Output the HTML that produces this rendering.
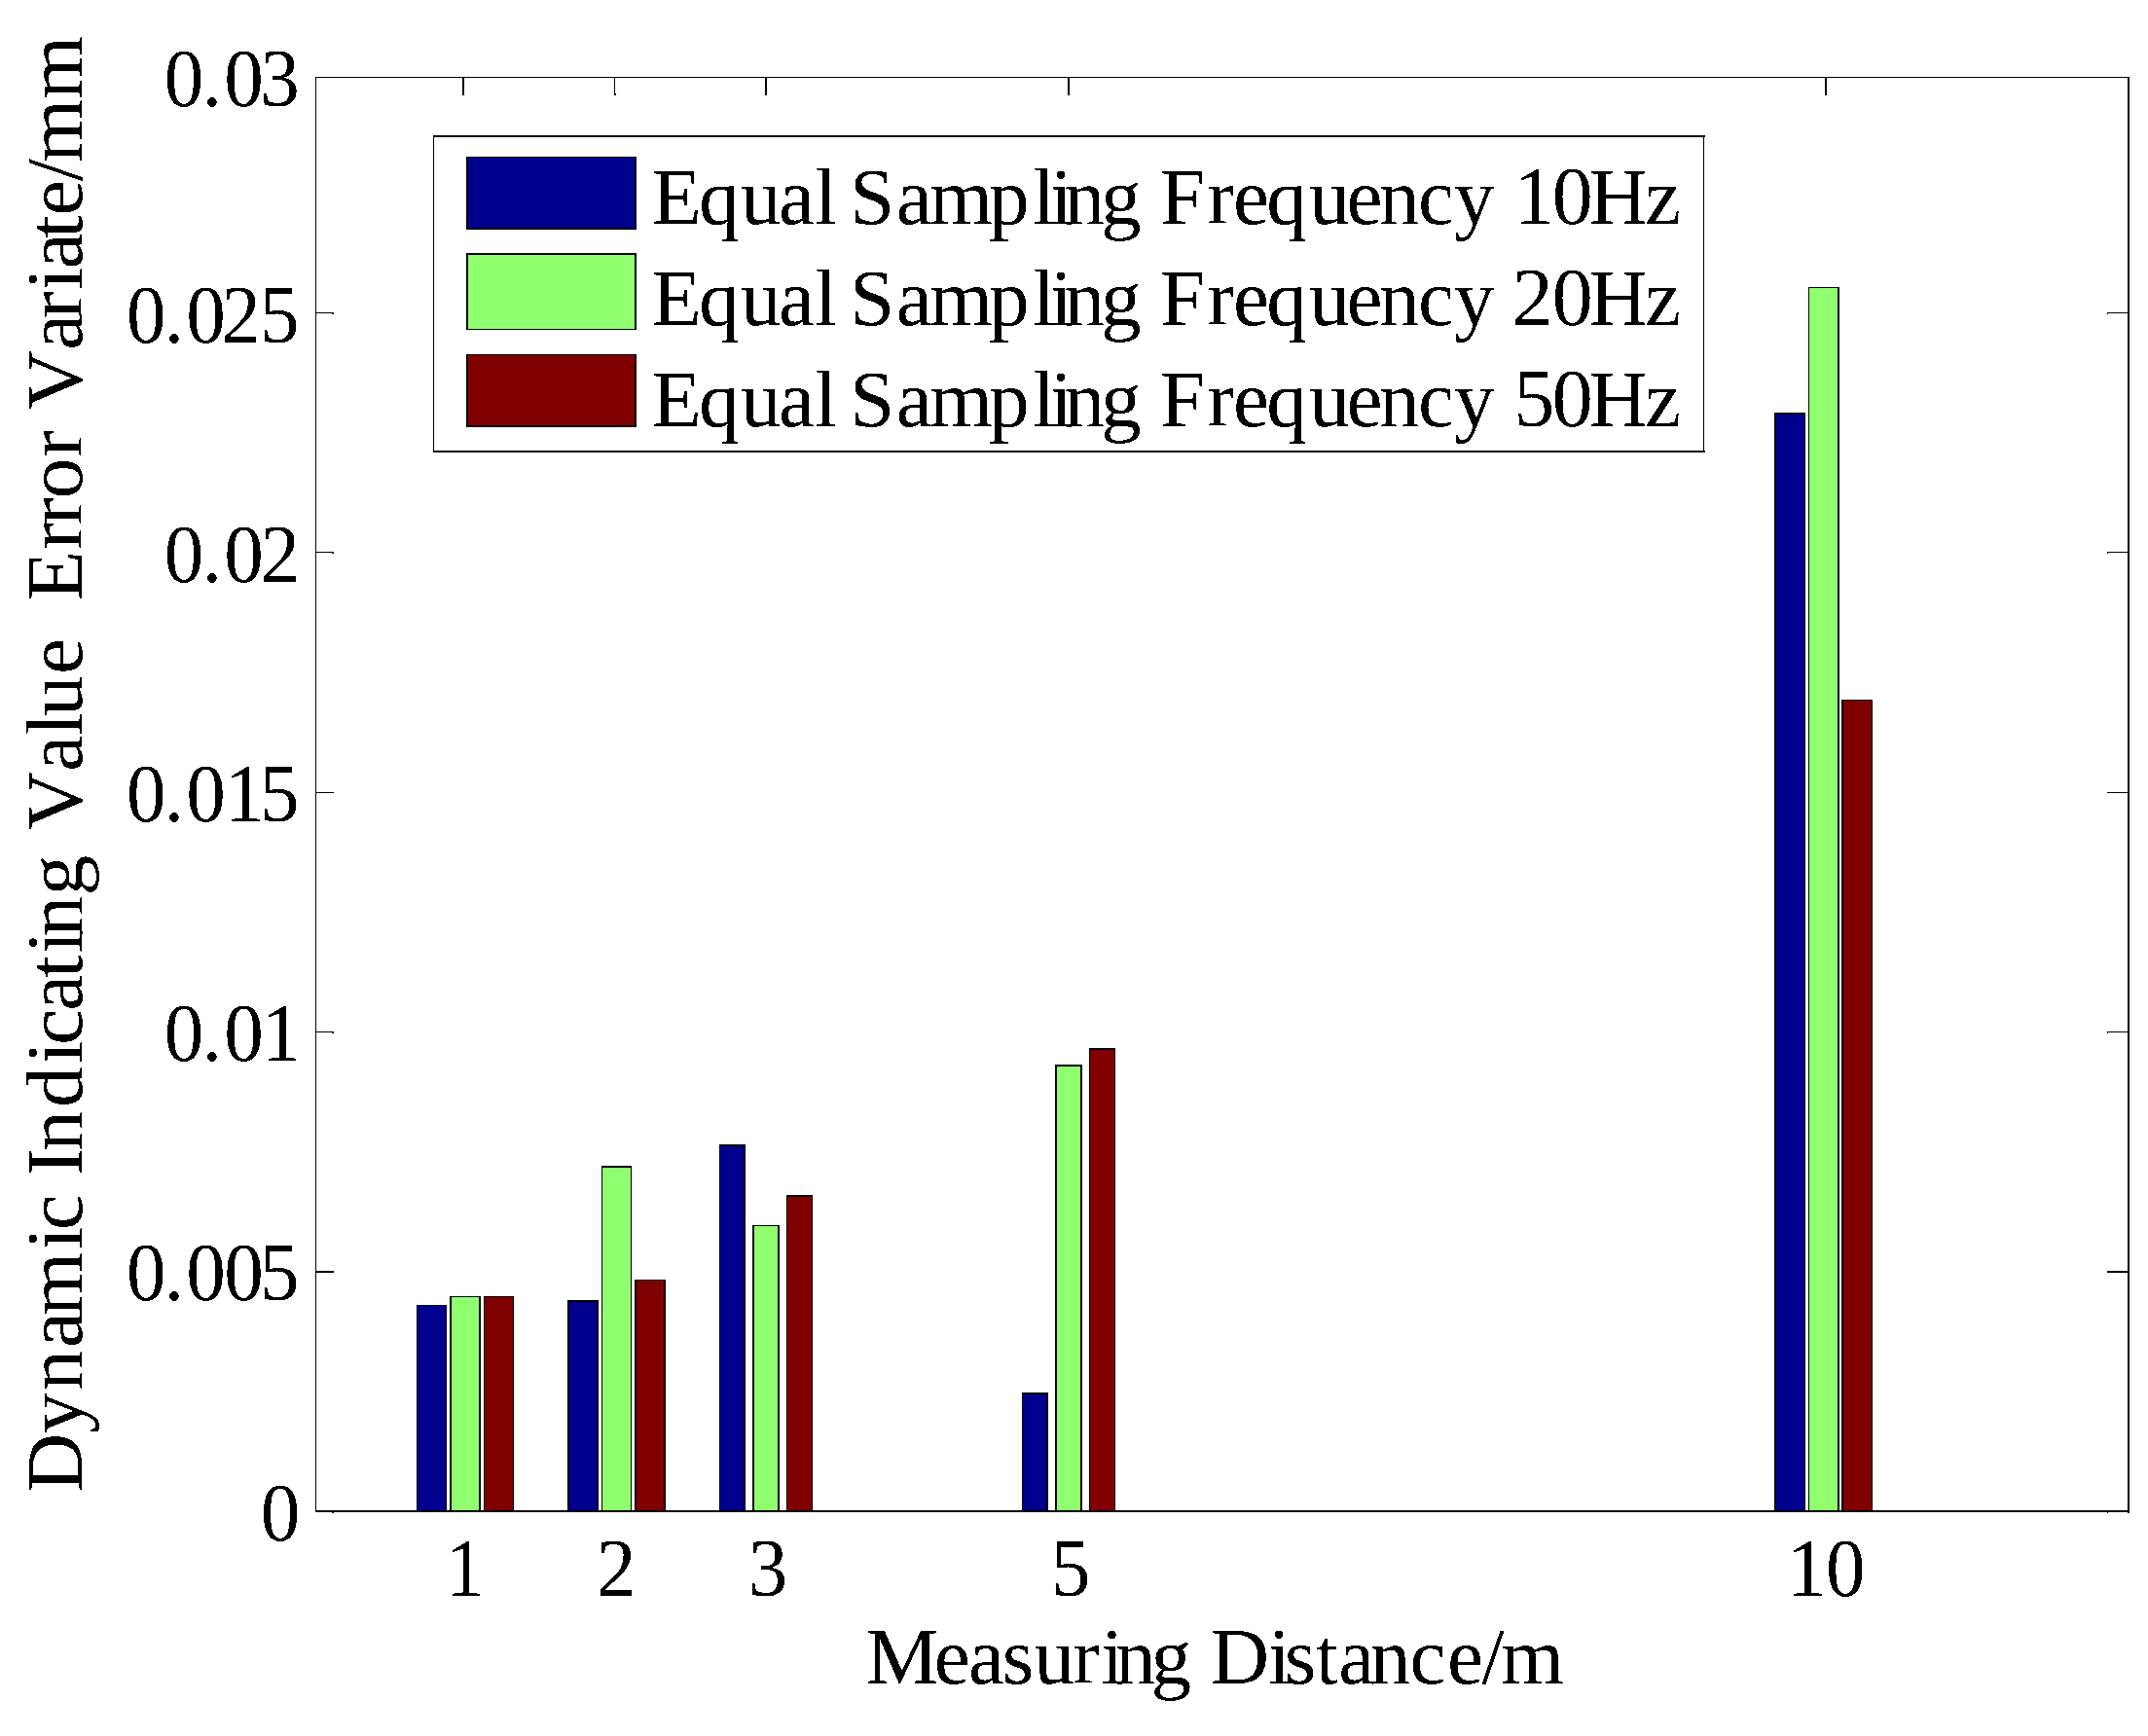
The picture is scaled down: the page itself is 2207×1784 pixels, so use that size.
<!DOCTYPE html>
<html><head><meta charset="utf-8"><title>Dynamic Indicating Value Error Variate vs Measuring Distance</title>
<style>
html,body{margin:0;padding:0;background:#fff;}
svg{display:block;}
text{font-family:'Liberation Serif','Times New Roman',Times,serif;font-size:83.33px;fill:#000;white-space:pre;filter:url(#bw);}
rect{shape-rendering:crispEdges;}
</style></head>
<body>
<svg width="2207" height="1784" viewBox="0 0 2207 1784">
<defs><filter id="bw" x="-5%" y="-20%" width="110%" height="140%" color-interpolation-filters="sRGB"><feComponentTransfer><feFuncA type="discrete" tableValues="0 1"/></feComponentTransfer></filter></defs>
<rect x="0" y="0" width="2207" height="1784" fill="#fff"/>
<rect x="324" y="79" width="1864" height="1" fill="#000"/>
<rect x="324" y="79" width="1" height="1475" fill="#000"/>
<rect x="2186" y="79" width="2" height="1475" fill="#000"/>
<rect x="324" y="1552" width="1864" height="2" fill="#000"/>
<rect x="2186" y="1554" width="2" height="1" fill="#000"/>
<rect x="475" y="80" width="2" height="18" fill="#000"/>
<rect x="631" y="80" width="1" height="18" fill="#000"/>
<rect x="786" y="80" width="2" height="18" fill="#000"/>
<rect x="1097" y="80" width="2" height="18" fill="#000"/>
<rect x="1875" y="80" width="2" height="18" fill="#000"/>
<rect x="631" y="96" width="2" height="2" fill="#000"/>
<rect x="325" y="321" width="18" height="1" fill="#000"/>
<rect x="2165" y="321" width="21" height="1" fill="#000"/>
<rect x="341" y="321" width="2" height="2" fill="#000"/>
<rect x="2165" y="321" width="1" height="2" fill="#000"/>
<rect x="325" y="567" width="18" height="1" fill="#000"/>
<rect x="2165" y="567" width="21" height="1" fill="#000"/>
<rect x="341" y="567" width="2" height="2" fill="#000"/>
<rect x="2165" y="567" width="1" height="2" fill="#000"/>
<rect x="325" y="814" width="18" height="1" fill="#000"/>
<rect x="2165" y="814" width="21" height="1" fill="#000"/>
<rect x="325" y="1060" width="18" height="1" fill="#000"/>
<rect x="2165" y="1060" width="21" height="1" fill="#000"/>
<rect x="341" y="1060" width="2" height="2" fill="#000"/>
<rect x="2165" y="1060" width="1" height="2" fill="#000"/>
<rect x="325" y="1306" width="18" height="2" fill="#000"/>
<rect x="2165" y="1306" width="21" height="2" fill="#000"/>
<rect x="341" y="1554" width="2" height="1" fill="#000"/>
<rect x="2165" y="1554" width="1" height="1" fill="#000"/>
<rect x="428" y="1341" width="31" height="211" fill="#000"/>
<rect x="429" y="1342" width="29" height="210" fill="#00008F"/>
<rect x="462" y="1332" width="32" height="220" fill="#000"/>
<rect x="464" y="1333" width="28" height="219" fill="#8FFF70"/>
<rect x="497" y="1332" width="31" height="220" fill="#000"/>
<rect x="498" y="1333" width="29" height="219" fill="#800000"/>
<rect x="583" y="1336" width="32" height="216" fill="#000"/>
<rect x="585" y="1338" width="28" height="214" fill="#00008F"/>
<rect x="618" y="1198" width="31" height="354" fill="#000"/>
<rect x="619" y="1200" width="29" height="352" fill="#8FFF70"/>
<rect x="652" y="1315" width="32" height="237" fill="#000"/>
<rect x="654" y="1316" width="28" height="236" fill="#800000"/>
<rect x="739" y="1176" width="27" height="376" fill="#000"/>
<rect x="740" y="1178" width="24" height="374" fill="#00008F"/>
<rect x="773" y="1259" width="28" height="293" fill="#000"/>
<rect x="775" y="1260" width="24" height="292" fill="#8FFF70"/>
<rect x="808" y="1228" width="27" height="324" fill="#000"/>
<rect x="809" y="1230" width="25" height="322" fill="#800000"/>
<rect x="1050" y="1431" width="27" height="121" fill="#000"/>
<rect x="1051" y="1433" width="24" height="119" fill="#00008F"/>
<rect x="1084" y="1094" width="28" height="458" fill="#000"/>
<rect x="1086" y="1096" width="24" height="456" fill="#8FFF70"/>
<rect x="1119" y="1077" width="27" height="475" fill="#000"/>
<rect x="1120" y="1079" width="25" height="473" fill="#800000"/>
<rect x="1823" y="424" width="32" height="1128" fill="#000"/>
<rect x="1825" y="426" width="29" height="1126" fill="#00008F"/>
<rect x="1858" y="295" width="32" height="1257" fill="#000"/>
<rect x="1859" y="296" width="29" height="1256" fill="#8FFF70"/>
<rect x="1892" y="719" width="32" height="833" fill="#000"/>
<rect x="1894" y="720" width="29" height="832" fill="#800000"/>
<rect x="445" y="139" width="1307" height="2" fill="#000"/>
<rect x="445" y="463" width="1307" height="2" fill="#000"/>
<rect x="445" y="139" width="1" height="326" fill="#000"/>
<rect x="1750" y="139" width="1" height="326" fill="#000"/>
<rect x="479" y="161" width="175" height="75" fill="#000"/>
<rect x="481" y="162" width="171" height="72" fill="#00008F"/>
<rect x="479" y="260" width="175" height="79" fill="#000"/>
<rect x="481" y="262" width="171" height="76" fill="#8FFF70"/>
<rect x="479" y="364" width="175" height="75" fill="#000"/>
<rect x="481" y="365" width="171" height="72" fill="#800000"/>
<text x="669.9 718.0 761.1 800.0 837.1 860.3 873.0 920.8 955.0 1016.0 1061.1 1079.1 1093.5 1131.1 1172.8 1192.0 1240.2 1267.1 1301.3 1345.2 1383.4 1417.1 1457.0 1493.9 1535.6" y="230">Equal Sampling Frequency <tspan x="1555.3 1594.8" style="font-size:84.0px">10</tspan><tspan x="1632.8 1690.1">Hz</tspan></text>
<text x="669.9 718.0 761.1 800.0 837.1 860.3 873.0 920.8 955.0 1016.0 1061.1 1079.1 1093.5 1131.1 1172.8 1192.0 1240.2 1267.1 1301.3 1345.2 1383.4 1417.1 1457.0 1493.9 1535.6" y="334">Equal Sampling Frequency <tspan x="1553.7 1594.8" style="font-size:84.0px">20</tspan><tspan x="1632.8 1690.1">Hz</tspan></text>
<text x="669.9 718.0 761.1 800.0 837.1 860.3 873.0 920.8 955.0 1016.0 1061.1 1079.1 1093.5 1131.1 1172.8 1192.0 1240.2 1267.1 1301.3 1345.2 1383.4 1417.1 1457.0 1493.9 1535.6" y="438">Equal Sampling Frequency <tspan x="1555.4 1594.8" style="font-size:84.0px">50</tspan><tspan x="1632.8 1690.1">Hz</tspan></text>
<text x="890.1 959.7 995.0 1029.8 1062.5 1101.9 1131.2 1145.9 1182.6 1224.3 1244.0 1303.1 1319.7 1351.8 1375.3 1407.7 1448.5 1487.1 1522.2 1542.0" y="1730" >Measuring Distance/m</text>
<text transform="translate(0,1640) scale(0.965,1)" style="font-size:84.0px" x="474.1" y="0">1</text>
<text transform="translate(0,1640) scale(0.965,1)" style="font-size:84.0px" x="635.3" y="0">2</text>
<text transform="translate(0,1640) scale(0.965,1)" style="font-size:84.0px" x="796.6" y="0">3</text>
<text transform="translate(0,1640) scale(0.965,1)" style="font-size:84.0px" x="1119.2" y="0">5</text>
<text transform="translate(0,1640) scale(0.965,1)" style="font-size:84.0px" x="1902.7 1944.1" y="0">10</text>
<text transform="translate(0,109) scale(0.965,1)" style="font-size:84.0px" x="174.9 215.2 238.5 276.9" y="0">0.03</text>
<text transform="translate(0,352) scale(0.965,1)" style="font-size:84.0px" x="134.7 174.8 198.1 235.6 276.8" y="0">0.025</text>
<text transform="translate(0,598) scale(0.965,1)" style="font-size:84.0px" x="174.9 215.2 238.5 277.3" y="0">0.02</text>
<text transform="translate(0,844) scale(0.965,1)" style="font-size:84.0px" x="134.7 174.8 198.1 239.4 276.8" y="0">0.015</text>
<text transform="translate(0,1090) scale(0.965,1)" style="font-size:84.0px" x="174.9 215.2 238.5 278.6" y="0">0.01</text>
<text transform="translate(0,1336) scale(0.965,1)" style="font-size:84.0px" x="134.7 174.8 198.1 238.5 276.8" y="0">0.005</text>
<text transform="translate(0,1583) scale(0.965,1)" style="font-size:84.0px" x="277.5" y="0">0</text>
<text x="0.0 60.1 104.0 147.9 181.1 248.9 268.8 305.8 325.0 350.1 394.9 439.9 459.1 494.2 527.9 553.3 570.6 612.4 654.1 680.0 740.3 777.3 797.0 840.0 877.0 897.8 915.9 968.3 993.8 1020.5 1063.2 1091.0 1112.2 1173.3 1205.8 1235.0 1256.5 1288.2 1311.2 1346.6 1366.0 1430.9" y="0" xml:space="preserve" transform="translate(84,1532.9) rotate(-90)">Dynamic Indicating Value  Error Variate/mm</text>
</svg>
</body></html>
